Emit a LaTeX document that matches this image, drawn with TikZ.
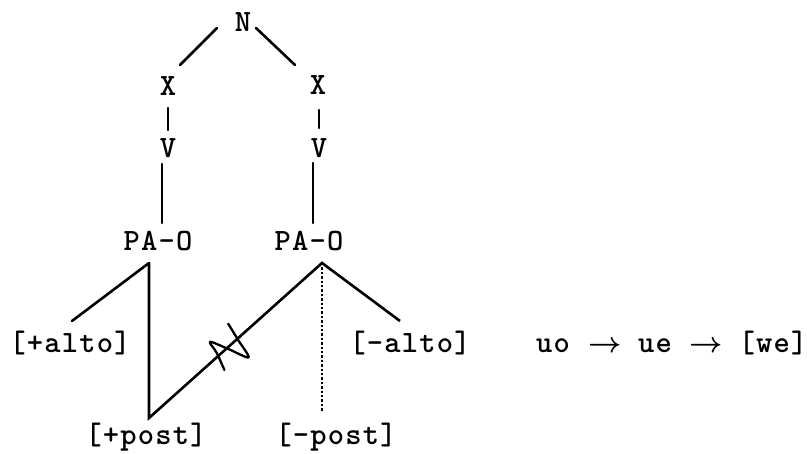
\RequirePackage{fix-cm}
\documentclass[tikz,border=0pt]{standalone}
\usepackage{fontspec}
\newfontfamily\typed[LetterSpace=4]{lmmonolt10-bold.otf}
\begin{document}
\begin{tikzpicture}[x=1pt,y=-1pt,
  lbl/.style={font=\typed\fontsize{31}{34}\selectfont, inner sep=0pt, anchor=base},
  arr/.style={font=\fontsize{29}{32}\selectfont\boldmath, inner sep=0pt, anchor=base},
  edge/.style={line width=2.6pt, line cap=round},
  dots/.style={line width=2.6pt, dash pattern=on 2.4pt off 2pt}]
\useasboundingbox (0,0) rectangle (807,454);

% labels of the tree
\node[lbl] (n)     at (243,32)  {N};
\node[lbl] (xl)    at (168,96)  {X};
\node[lbl] (xr)    at (318,95)  {X};
\node[lbl] (vl)    at (168,158) {V};
\node[lbl] (vr)    at (319,158) {V};
\node[lbl] (pal)   at (158,251) {PA-O};
\node[lbl] (par)   at (309,251) {PA-O};
\node[lbl] (palto) at (70,353)  {[+alto]};
\node[lbl] (malto) at (410,353) {[-alto]};
\node[lbl] (ppost) at (146,445) {[+post]};
\node[lbl] (mpost) at (336,445) {[-post]};

% the sound change written to the right
\node[lbl] (uo) at (553,353) {uo};
\node[arr] (to1) at (605,353) {$\rightarrow$};
\node[lbl] (ue) at (655,353) {ue};
\node[arr] (to2) at (706,353) {$\rightarrow$};
\node[lbl] (we) at (773,353) {[we]};

% end points of the branches
\coordinate (n-l)   at (217,28);  \coordinate (xl-t) at (180,65);
\coordinate (n-r)   at (256,28);  \coordinate (xr-t) at (295,65);
\coordinate (xl-b)  at (168,108); \coordinate (vl-t) at (168,130);
\coordinate (xr-b)  at (319,110); \coordinate (vr-t) at (319,128);
\coordinate (vl-b)  at (162,164); \coordinate (pal-t) at (162,223);
\coordinate (vr-b)  at (313,163); \coordinate (par-t) at (313,223);
\coordinate (al)    at (149,263); % branching point under the left PA-O
\coordinate (ar)    at (322,263); % branching point under the right PA-O
\coordinate (palto-t) at (72,321);
\coordinate (malto-t) at (400,321);
\coordinate (ppost-t) at (149,418);
\coordinate (mpost-t) at (322,412);

% association lines
\draw[edge] (n-l) -- (xl-t);
\draw[edge] (n-r) -- (xr-t);
\draw[edge] (xl-b) -- (vl-t);
\draw[edge] (xr-b) -- (vr-t);
\draw[edge] (vl-b) -- (pal-t);
\draw[edge] (vr-b) -- (par-t);
\draw[edge] (al) -- (palto-t);
\draw[edge, line cap=butt, line join=miter] (al) -- (ppost-t) -- (ar) -- (malto-t);
\draw[dots] (ar) -- (mpost-t);

% delinking mark across the line from [+post] to the right PA-O
\draw[line width=2.3pt, line cap=round, line join=round]
  plot[smooth, tension=0.5] coordinates {(228.2,323.7) (238.2,340.1) (248.6,357.4)
  (229,349.3) (210,341.8) (216.7,352.8) (224.4,370)};
\end{tikzpicture}
\end{document}
